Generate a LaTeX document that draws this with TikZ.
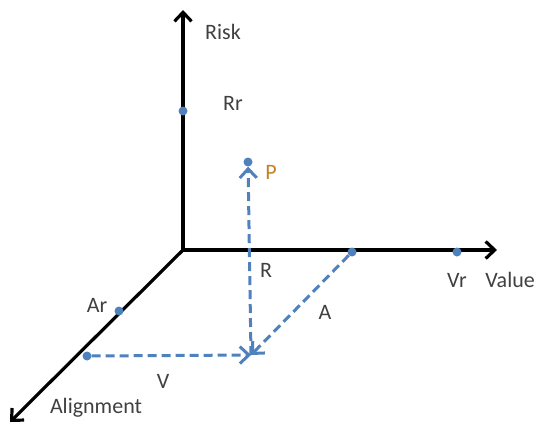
\documentclass[tikz,border=0pt]{standalone}
\usepackage{fontspec}
\setmainfont{Carlito}
\usetikzlibrary{arrows.meta}
\definecolor{vecblue}{RGB}{79,129,189}
\definecolor{porange}{RGB}{196,128,36}

\begin{document}
\begin{tikzpicture}[x=1pt, y=-1pt, every node/.style={font=\fontsize{22}{26}\selectfont, text=black!75}, >={Straight Barb[length=9pt, width=17pt]}]
	\useasboundingbox (0,0) rectangle (537,426);
	\tikzset{axis/.style={line width=3.2pt, black}, vec/.style={line width=3pt, vecblue, dash pattern=on 9pt off 5pt}, dot/.style={circle, fill=vecblue, inner sep=0pt, minimum size=9pt}}
	% axes
	\coordinate (O) at (183,250);
	\coordinate (risktop) at (183,10);
	\coordinate (valueend) at (497,250);
	\coordinate (alignend) at (10,422);
	\draw[axis, <->, line join=miter] (risktop) -- (O) -- (valueend);
	\draw[axis, ->] (O) -- (alignend);
	% points
	\foreach \n/\p in {rr/{183,111}, p/{248,162}, a/{352,252}, vr/{457,252}, ar/{119,311}, v/{87,356}}
		\node[dot] (\n) at (\p) {};
	\coordinate (m) at (251,355);
	\draw[vec, ->] (v) -- (m);
	\draw[vec, ->] (a) -- (m);
	\draw[vec, ->] (m) -- (p);
	% labels
	\node (lrisk) at (223,32) {Risk};
	\node (lrr) at (233,103) {Rr};
	\node[text=porange] (lp) at (271,172) {P};
	\node (lr) at (266,270) {R};
	\node (la) at (325,312) {A};
	\node (lv) at (163,381) {V};
	\node (lar) at (97,305) {Ar};
	\node (lvr) at (457,280) {Vr};
	\node[inner xsep=1pt, anchor=east] (lvalue) at (536,280) {Value};
	\node (lalign) at (96,408) {Alignment};
\end{tikzpicture}
\end{document}
